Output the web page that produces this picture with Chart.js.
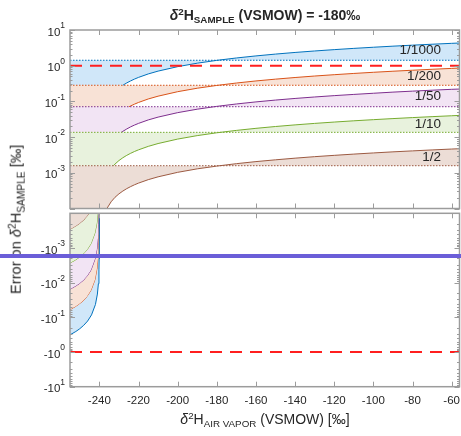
<!DOCTYPE html>
<html>
<head>
<meta charset="utf-8">
<script src="https://cdn.jsdelivr.net/npm/chart.js@4.4.1/dist/chart.umd.min.js"></script>
<style>
  body { margin: 0; width: 461px; height: 436px; background: #fff; position: relative; overflow: hidden;
         font-family: "Liberation Sans", Arial, sans-serif; color: #262626; }
  canvas { position: absolute; left: 0; }
  #top { top: 0; }
  #bottom { top: 206px; }
  .lbl { position: absolute; white-space: nowrap; line-height: 1; font-size: 14px; font-weight: normal; }
  .lbl sup, .lbl sub { font-size: 70%; vertical-align: baseline; position: relative; }
  .lbl sup { top: -0.5em; }
  .lbl sub { top: 0.35em; }
  #title { left: 70px; width: 390px; top: 8px; text-align: center; font-weight: bold; }
  #xlabel { left: 70px; width: 390px; top: 412px; text-align: center; }
  #ylabel { left: -134px; top: 212px; width: 300px; text-align: center; font-size: 14.6px;
            transform: rotate(-90deg); }
  #marker { position: absolute; left: 0; top: 254px; width: 461px; height: 4px; background: #6b5ed8; }
</style>
</head>
<body>
<canvas id="top" width="461" height="214"></canvas>
<canvas id="bottom" width="461" height="230"></canvas>
<div id="title" class="lbl"><i>δ</i><sup>2</sup>H<sub>SAMPLE</sub> (VSMOW) = -180‰</div>
<div id="xlabel" class="lbl"><i>δ</i><sup>2</sup>H<sub>AIR VAPOR</sub> (VSMOW) [‰]</div>
<div id="ylabel" class="lbl">Error on <i>δ</i><sup>2</sup>H<sub>SAMPLE</sub> [‰]</div>
<div id="marker"></div>
<script>
// mixing ratios, one band per ratio
var ratios = ['1/1000', '1/200', '1/50', '1/10', '1/2'];
var lineColors = ['#0072bd', '#d95319', '#7e2f8e', '#77ac30', '#9c5a42'];
var fillColors = ['#d0e7f9', '#f8e2d6', '#f2e4f4', '#e8f2dd', '#ecddd6'];

// constant error level of each band (dotted lines)
var sampleLevel = [1.42, 0.283, 0.071, 0.0136, 0.00158];
// where each curve comes out of the band below it
var curveStart = [-228, -224.8, -228.8, -232.8, -236.1];
var floorValue = 1e-4;

// air vapor above -240: positive error
var vaporHigh = [-238, -236, -234, -232, -230, -228, -226, -224, -222, -220, -215, -210, -200, -190, -180, -170,
                 -160, -150, -140, -130, -120, -110, -100, -90, -80, -70, -60, -56];
var errHigh1000 = [0.047, 0.094, 0.141, 0.188, 0.235, 0.282, 0.329, 0.376, 0.423, 0.47, 0.588, 0.705, 0.94, 1.175,
                   1.41, 1.645, 1.88, 2.115, 2.35, 2.585, 2.82, 3.055, 3.29, 3.525, 3.76, 3.995, 4.23, 4.32];
var errHigh200 = [0.0093, 0.0187, 0.028, 0.0374, 0.0467, 0.056, 0.0654, 0.0747, 0.084, 0.0934, 0.117, 0.14, 0.187,
                  0.234, 0.28, 0.327, 0.374, 0.42, 0.467, 0.514, 0.56, 0.607, 0.654, 0.70, 0.747, 0.794, 0.84, 0.86];
var errHigh50 = [0.00242, 0.00484, 0.00726, 0.00968, 0.0121, 0.0145, 0.0169, 0.0194, 0.0218, 0.0242, 0.0303, 0.0363,
                 0.0484, 0.0605, 0.0726, 0.0847, 0.0968, 0.109, 0.121, 0.133, 0.145, 0.157, 0.169, 0.182, 0.194,
                 0.206, 0.218, 0.222];
var errHigh10 = [0.00044, 0.00088, 0.00132, 0.00176, 0.0022, 0.00264, 0.00308, 0.00352, 0.00396, 0.0044, 0.0055,
                 0.0066, 0.0088, 0.011, 0.0132, 0.0154, 0.0176, 0.0198, 0.022, 0.0242, 0.0264, 0.0286, 0.0308, 0.033,
                 0.0352, 0.0374, 0.0396, 0.0405];
var errHigh2 = [5.1e-5, 1.03e-4, 1.54e-4, 2.06e-4, 2.57e-4, 3.08e-4, 3.6e-4, 4.11e-4, 4.63e-4, 5.14e-4, 6.43e-4,
                7.71e-4, 1.03e-3, 1.29e-3, 1.54e-3, 1.8e-3, 2.06e-3, 2.31e-3, 2.57e-3, 2.83e-3, 3.08e-3, 3.34e-3,
                3.6e-3, 3.86e-3, 4.11e-3, 4.37e-3, 4.63e-3, 4.73e-3];

// air vapor below -240: negative error (magnitudes)
var vaporLow = [-255, -252, -250, -248, -246, -244, -242, -241, -240.5, -240.2, -240.1, -240.05, -240.02, -240.01,
                -240.005, -240.002];
var errLow1000 = [0.32, 0.256, 0.213, 0.170, 0.128, 0.085, 0.0426, 0.0213, 0.0107, 0.0043, 0.0021, 0.00107,
                  4.3e-4, 2.1e-4, 1.07e-4, 4.3e-5];
var errLow200 = [0.062, 0.0496, 0.0413, 0.033, 0.0248, 0.0165, 0.0083, 0.0041, 0.0021, 8.3e-4, 4.1e-4, 2.1e-4,
                 8.3e-5, 4.1e-5, 2.1e-5, 8.3e-6];
var errLow50 = [0.016, 0.0128, 0.0107, 0.0086, 0.0064, 0.0043, 0.0021, 0.0011, 5.4e-4, 2.1e-4, 1.1e-4, 5.4e-5,
                2.1e-5, 1.1e-5, 5.4e-6, 2.1e-6];
var errLow10 = [0.0028, 0.00224, 0.00187, 0.0015, 0.00112, 7.5e-4, 3.7e-4, 1.9e-4, 9.3e-5, 3.7e-5, 1.9e-5, 9.3e-6,
                3.7e-6, 1.9e-6, 9.3e-7, 3.7e-7];
var errLow2 = [3.0e-4, 2.4e-4, 2.0e-4, 1.6e-4, 1.2e-4, 8e-5, 4e-5, 2e-5, 1e-5, 4e-6, 2e-6, 1e-6, 4e-7, 2e-7,
               1e-7, 4e-8];

var errHigh = [errHigh1000, errHigh200, errHigh50, errHigh10, errHigh2];
var errLow = [errLow1000, errLow200, errLow50, errLow10, errLow2];
var xMin = -255, xMax = -56;

var tickFont = '11.5px "Liberation Sans", Arial, sans-serif';
var supFont = '8.5px "Liberation Sans", Arial, sans-serif';

// boxed axes with inward ticks, drawn on top of the data
var frame = {
  id: 'frame',
  afterDatasetsDraw: function (chart, args, opts) {
    var ctx = chart.ctx, a = chart.chartArea, x = chart.scales.x, y = chart.scales.y;
    ctx.save();
    ctx.strokeStyle = '#9c9c9c';
    ctx.lineWidth = 1;
    ctx.beginPath();
    x.ticks.forEach(function (t) {
      var px = Math.round(x.getPixelForValue(t.value)) + 0.5;
      ctx.moveTo(px, a.top); ctx.lineTo(px, a.top + 5);
      ctx.moveTo(px, a.bottom); ctx.lineTo(px, a.bottom - 5);
    });
    var e0 = Math.floor(Math.log10(y.min)), e1 = Math.ceil(Math.log10(y.max));
    for (var e = e0; e <= e1; e++) {
      for (var m = 1; m < 10; m++) {
        var v = m * Math.pow(10, e);
        if (v < y.min * 0.999 || v > y.max * 1.001) continue;
        var py = Math.round(y.getPixelForValue(v)) + 0.5;
        var len = m === 1 ? 5 : 2.5;
        ctx.moveTo(a.left, py); ctx.lineTo(a.left + len, py);
        ctx.moveTo(a.right, py); ctx.lineTo(a.right - len, py);
      }
    }
    ctx.stroke();
    ctx.lineWidth = 1.5;
    ctx.strokeRect(a.left, a.top, a.right - a.left, a.bottom - a.top);

    // power-of-ten labels on the y axis
    ctx.fillStyle = '#262626';
    ctx.textBaseline = 'middle';
    ctx.textAlign = 'left';
    for (var p = e0; p <= e1; p++) {
      var val = Math.pow(10, p);
      if (val <= y.min * 1.001 || val > y.max * 1.001) continue;
      var yy = y.getPixelForValue(val);
      var base = opts.prefix + '10', ex = String(p);
      ctx.font = supFont; var ws = ctx.measureText(ex).width;
      ctx.font = tickFont; var wb = ctx.measureText(base).width;
      var x0 = a.left - 5 - ws - wb;
      ctx.fillText(base, x0, yy + 2.5);
      ctx.font = supFont; ctx.fillText(ex, x0 + wb, yy - 4);
    }

    if (opts.xLabels) {
      ctx.font = tickFont;
      ctx.textAlign = 'center';
      x.ticks.forEach(function (t) {
        ctx.fillText(String(t.value), x.getPixelForValue(t.value), a.bottom + 14.5);
      });
    }

    if (opts.bandLabels) {
      ctx.font = '13.5px "Liberation Sans", Arial, sans-serif';
      ctx.textAlign = 'right';
      opts.bandLabels.forEach(function (b, i) {
        ctx.fillText(ratios[i], x.getPixelForValue(b[0]), y.getPixelForValue(b[1]));
      });
    }
    ctx.restore();
  }
};

function redLine() {
  return { data: [{ x: xMin, y: 1 }, { x: xMax, y: 1 }], borderColor: '#ff1f1f', borderWidth: 2,
           borderDash: [12, 8], fill: false };
}

function makeChart(id, datasets, reverse, pad, frameOpts) {
  return new Chart(document.getElementById(id), {
    type: 'line',
    data: { datasets: datasets },
    options: {
      responsive: false,
      animation: false,
      devicePixelRatio: 1,
      events: [],
      layout: { padding: pad },
      elements: { point: { radius: 0 }, line: { tension: 0 } },
      scales: {
        x: { type: 'linear', display: false, min: xMin, max: xMax,
             ticks: { stepSize: 20, includeBounds: false, display: false, autoSkip: false } },
        y: { type: 'logarithmic', display: false, min: floorValue, max: 10, reverse: reverse,
             ticks: { display: false } }
      },
      plugins: { legend: { display: false }, tooltip: { enabled: false }, frame: frameOpts }
    },
    plugins: [frame]
  });
}

// upper panel: red limit, dotted levels, curves, then the band fills (drawn first)
var topSets = [redLine()];
sampleLevel.forEach(function (v, i) {
  topSets.push({ data: [{ x: xMin, y: v }, { x: xMax, y: v }], borderColor: lineColors[i], borderWidth: 1,
                 borderDash: [1.5, 1.5], fill: false });
});
var curvePts = sampleLevel.map(function (v, i) {
  var below = i < sampleLevel.length - 1 ? sampleLevel[i + 1] : floorValue;
  var pts = [{ x: curveStart[i], y: below }];
  vaporHigh.forEach(function (x, j) { if (x > curveStart[i]) pts.push({ x: x, y: errHigh[i][j] }); });
  return { below: below, pts: pts };
});
curvePts.forEach(function (c, i) {
  topSets.push({ data: c.pts, borderColor: lineColors[i], borderWidth: 1, fill: false });
});
curvePts.forEach(function (c, i) {
  topSets.push({
    data: [{ x: xMin, y: c.below }].concat(c.pts),
    borderWidth: 0, borderColor: 'rgba(0,0,0,0)', backgroundColor: fillColors[i], fill: 1 + i
  });
});

// lower panel: magnitudes of the negative errors, bands stacked between curves
var bottomSets = [redLine()];
errLow.forEach(function (vals, i) {
  bottomSets.push({
    data: vaporLow.map(function (x, j) { return { x: x, y: vals[j] }; }),
    borderColor: lineColors[i], borderWidth: 1, backgroundColor: fillColors[i],
    fill: i < errLow.length - 1 ? '+1' : { value: floorValue }
  });
});

makeChart('top', topSets, false, { left: 70, right: 1.5, top: 30, bottom: 5.5 },
  { prefix: '', xLabels: false,
    bandLabels: [[-65.5, 2.63], [-65.5, 0.49], [-65.5, 0.135], [-65.5, 0.0233], [-65.5, 0.00266]] });
makeChart('bottom', bottomSets, true, { left: 70, right: 1.5, top: 7.3, bottom: 49.3 },
  { prefix: '-', xLabels: true, bandLabels: null });
</script>
</body>
</html>
